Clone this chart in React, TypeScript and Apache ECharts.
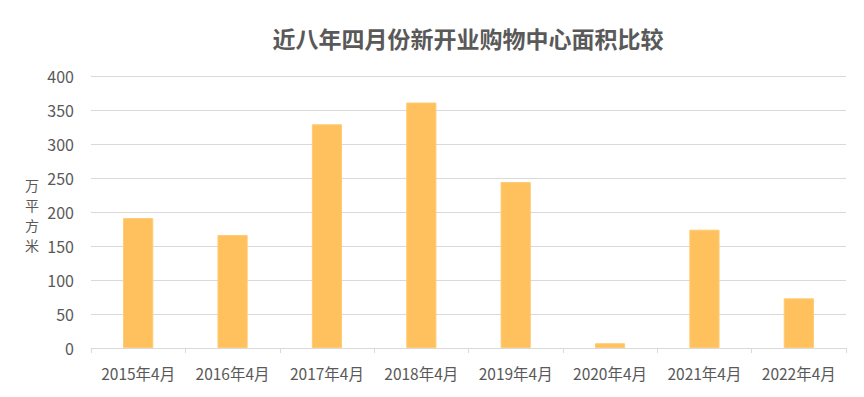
import React, { useEffect, useRef } from "react";
import * as echarts from "echarts";

const titleText = "近八年四月份新开业购物中心面积比较";
const yAxisName = ["万", "平", "方", "米"];
const categories = ["2015年4月", "2016年4月", "2017年4月", "2018年4月", "2019年4月", "2020年4月", "2021年4月", "2022年4月"];
const areaValues = [191, 166, 329, 361, 244, 7, 174, 73];

const FONT = '"Noto Sans CJK SC", "Noto Sans", sans-serif';

export default function App() {
  const ref = useRef<HTMLDivElement>(null);
  useEffect(() => {
    if (!ref.current) return;
    const chart = echarts.init(ref.current, undefined, { renderer: "svg" });
    chart.setOption({
      animation: false,
      backgroundColor: "#ffffff",
      title: {
        text: titleText,
        left: 463,
        top: 21,
        textAlign: "center",
        textStyle: { fontFamily: FONT, fontSize: 23, fontWeight: "bold", color: "#595959" },
      },
      grid: { left: 91, right: 18, top: 76, bottom: 49 },
      xAxis: {
        type: "category",
        data: categories,
        axisLine: { lineStyle: { color: "#d9d9d9", width: 1 } },
        axisTick: { show: true, length: 5, lineStyle: { color: "#d9d9d9" } },
        axisLabel: { fontFamily: FONT, fontSize: 15.5, color: "#595959", margin: 17, interval: 0 },
      },
      yAxis: {
        type: "value",
        min: 0,
        max: 400,
        interval: 50,
        axisLine: { show: false },
        axisTick: { show: false },
        splitLine: { lineStyle: { color: "#d9d9d9", width: 1 } },
        axisLabel: { fontFamily: FONT, fontSize: 16, color: "#595959", margin: 17 },
      },
      graphic: [
        {
          type: "text",
          left: 25,
          top: 175,
          style: {
            text: yAxisName.join("\n"),
            font: `14px ${FONT}`,
            fill: "#595959",
            lineHeight: 20,
          },
        },
      ],
      series: [
        {
          type: "bar",
          data: areaValues,
          barWidth: "32%",
          itemStyle: { color: "#FFC05E", borderColor: "#FFCB73", borderWidth: 1 },
        },
      ],
    });
    return () => chart.dispose();
  }, []);
  return <div ref={ref} style={{ width: 864, height: 397, position: "absolute", left: 0, top: 0 }} />;
}
